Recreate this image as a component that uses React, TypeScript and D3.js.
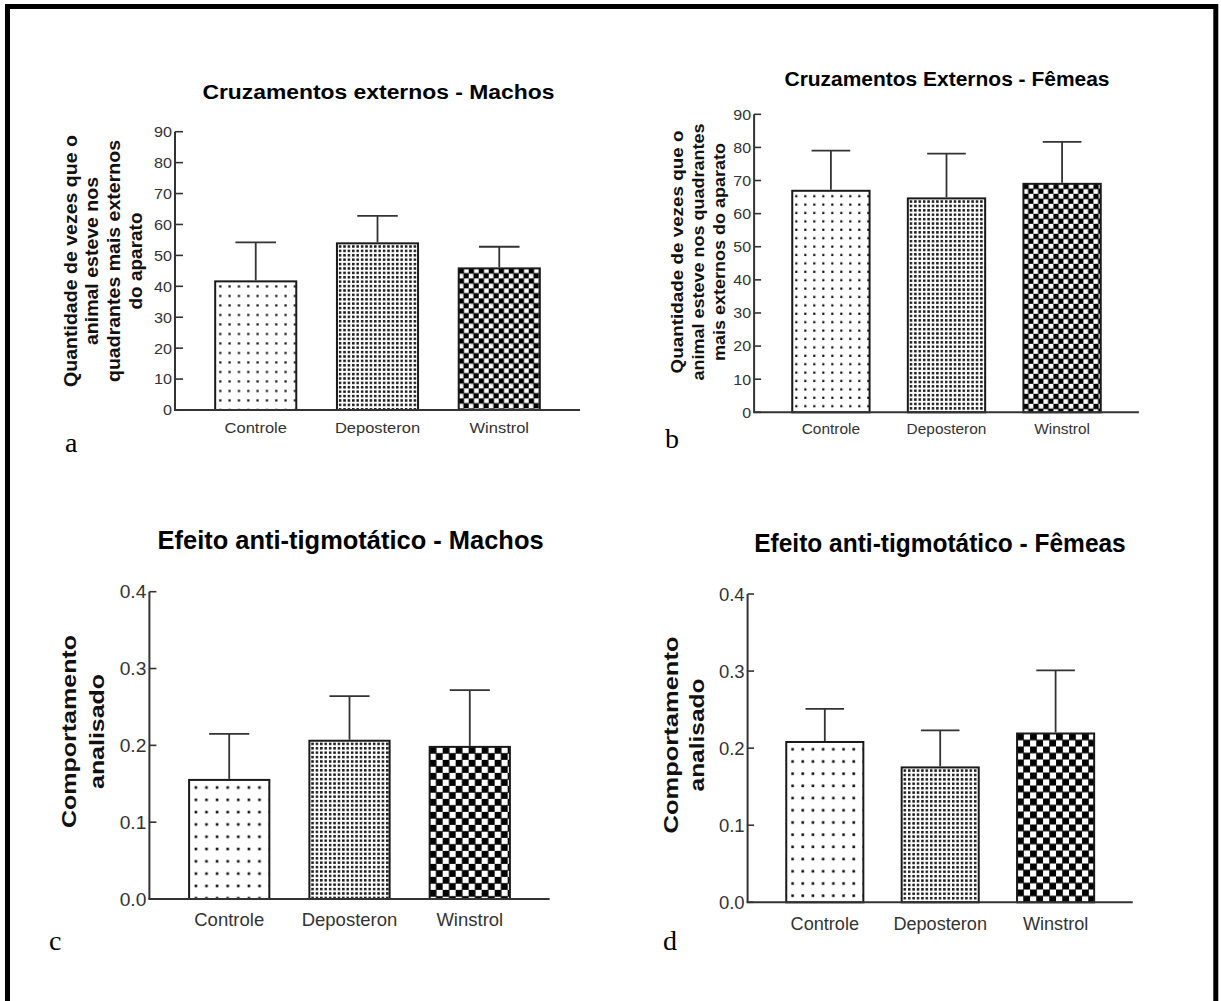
import React, { useEffect } from 'react';
import * as d3 from 'd3';

// ---------- data ----------
const categories = ['Controle', 'Deposteron', 'Winstrol'];

const machosCruzMean = [41.6, 53.9, 45.8];
const machosCruzErr = [12.6, 8.9, 7.0];

const femeasCruzMean = [66.9, 64.6, 69.0];
const femeasCruzErr = [12.1, 13.5, 12.7];

const machosTigMean = [0.155, 0.206, 0.198];
const machosTigErr = [0.06, 0.058, 0.074];

const femeasTigMean = [0.208, 0.175, 0.219];
const femeasTigErr = [0.043, 0.048, 0.082];

const cruzTicks = [0, 10, 20, 30, 40, 50, 60, 70, 80, 90];
const tigTicks = [0, 0.1, 0.2, 0.3, 0.4];

const titleA = 'Cruzamentos externos - Machos';
const titleB = 'Cruzamentos Externos - Fêmeas';
const titleC = 'Efeito anti-tigmotático - Machos';
const titleD = 'Efeito anti-tigmotático - Fêmeas';

const yLabelA = ['Quantidade de vezes que o', 'animal esteve nos', 'quadrantes mais externos', 'do aparato'];
const yLabelB = ['Quantidade de vezes que o', 'animal esteve nos quadrantes', 'mais externos do aparato'];
const yLabelCD = ['Comportamento', 'analisado'];

const SANS = '"Liberation Sans", Arial, Helvetica, sans-serif';
const SERIF = '"Liberation Serif", "Times New Roman", serif';

type Cfg = {
  id: string;
  means: number[];
  errs: number[];
  ticks: number[];
  fmt: (v: number) => string;
  x0: number; x1: number; yBottom: number; yTop: number;
  pi: number; po: number;
  title: string; titleX: number; titleY: number; titleSize: number; titleLen: number;
  yl: string[]; ylX: number[]; ylLen: number[]; ylCy: number; ylSize: number;
  tickSize: number; tickSx: number; tickLen: number;
  catSize: number; catSx: number; catY: number;
  dot: { sx: number; sy: number; ox: number; oy: number; d: number };
  dense: number;
  check: number;
  letter: string; letterX: number; letterY: number;
};

function SText(props: any) {
  const { x, y, sx = 1, anchor = 'start', size, weight = 'normal', fill = '#000', children } = props;
  return (
    <text
      transform={`translate(${x},${y}) scale(${sx},1)`}
      textAnchor={anchor}
      fontSize={size}
      fontWeight={weight}
      fontFamily={SANS}
      fill={fill}
    >
      {children}
    </text>
  );
}

function Panel({ c }: { c: Cfg }) {
  const x = d3.scaleBand<string>().domain(categories).range([c.x0, c.x1]).paddingInner(c.pi).paddingOuter(c.po);
  const y = d3.scaleLinear().domain([c.ticks[0], c.ticks[c.ticks.length - 1]]).range([c.yBottom, c.yTop]);
  const bw = x.bandwidth();

  return (
    <g>
      <defs>
        {categories.map((cat, i) => {
          const bx = x(cat)!;
          const by = y(c.means[i]);
          const pid = `${c.id}-p${i}`;
          if (i === 0) {
            return (
              <pattern key={pid} id={pid} patternUnits="userSpaceOnUse" x={bx} y={by} width={c.dot.sx} height={c.dot.sy}>
                <rect x={c.dot.ox} y={c.dot.oy} width={c.dot.d} height={c.dot.d} fill="#111" />
              </pattern>
            );
          }
          if (i === 1) {
            return (
              <pattern key={pid} id={pid} patternUnits="userSpaceOnUse" x={bx + 1} y={by + 1} width={c.dense} height={c.dense}>
                <rect x={0.9} y={0.9} width={2.5} height={2.5} fill="#1a1a1a" />
              </pattern>
            );
          }
          const s = c.check;
          return (
            <pattern key={pid} id={pid} patternUnits="userSpaceOnUse" x={bx} y={by} width={2 * s} height={2 * s}>
              <rect x={0} y={0} width={2 * s} height={2 * s} fill="#fff" />
              <rect x={-0.3} y={-0.3} width={s + 0.6} height={s + 0.6} fill="#000" />
              <rect x={s - 0.3} y={s - 0.3} width={s + 0.6} height={s + 0.6} fill="#000" />
            </pattern>
          );
        })}
      </defs>

      {/* bars */}
      {categories.map((cat, i) => {
        const bx = x(cat)!;
        const top = y(c.means[i]);
        return (
          <rect
            key={cat}
            x={bx}
            y={top}
            width={bw}
            height={y(0) - top}
            fill={`url(#${c.id}-p${i})`}
            stroke="#1a1a1a"
            strokeWidth={2}
          />
        );
      })}

      {/* error bars */}
      {categories.map((cat, i) => {
        const cx = x(cat)! + bw / 2;
        const top = y(c.means[i]);
        const et = y(c.means[i] + c.errs[i]);
        return (
          <g key={cat + 'e'} stroke="#333" strokeWidth={1.8}>
            <line x1={cx} x2={cx} y1={top - 1} y2={et} />
            <line x1={cx - bw / 4} x2={cx + bw / 4} y1={et} y2={et} />
          </g>
        );
      })}

      {/* axes */}
      <line x1={c.x0} x2={c.x0} y1={c.yTop} y2={c.yBottom} stroke="#333" strokeWidth={2} />
      <line x1={c.x0 - 1} x2={c.x1} y1={c.yBottom} y2={c.yBottom} stroke="#333" strokeWidth={2} />
      {c.ticks.map((t) => (
        <g key={t}>
          <line x1={c.x0} x2={c.x0 + c.tickLen} y1={y(t)} y2={y(t)} stroke="#333" strokeWidth={1.6} />
          <SText x={c.x0 - 3} y={y(t) + c.tickSize * 0.36} sx={c.tickSx} anchor="end" size={c.tickSize} fill="#333">
            {c.fmt(t)}
          </SText>
        </g>
      ))}

      {/* category labels */}
      {categories.map((cat) => (
        <SText key={cat + 'l'} x={x(cat)! + bw / 2} y={c.catY} sx={c.catSx} anchor="middle" size={c.catSize} fill="#333">
          {cat}
        </SText>
      ))}

      {/* title */}
      <text
        x={c.titleX}
        y={c.titleY}
        textAnchor="middle"
        fontFamily={SANS}
        fontWeight="bold"
        fontSize={c.titleSize}
        textLength={c.titleLen}
        lengthAdjust="spacingAndGlyphs"
        fill="#000"
      >
        {c.title}
      </text>

      {/* y label */}
      {c.yl.map((line, i) => (
        <text
          key={line}
          transform={`translate(${c.ylX[i]},${c.ylCy}) rotate(-90)`}
          textAnchor="middle"
          fontFamily={SANS}
          fontWeight="bold"
          fontSize={c.ylSize}
          textLength={c.ylLen[i]}
          lengthAdjust="spacingAndGlyphs"
          fill="#111"
        >
          {line}
        </text>
      ))}

      {/* panel letter */}
      <text x={c.letterX} y={c.letterY} fontFamily={SERIF} fontSize={28} fill="#000">
        {c.letter}
      </text>
    </g>
  );
}

const f0 = d3.format('d');
const f1 = d3.format('.1f');

const panels: Cfg[] = [
  {
    id: 'a', means: machosCruzMean, errs: machosCruzErr, ticks: cruzTicks, fmt: f0,
    x0: 175, x1: 580, yBottom: 410, yTop: 131.7, pi: 0.334, po: 0.33,
    title: titleA, titleX: 378.4, titleY: 99.3, titleSize: 20, titleLen: 352,
    yl: yLabelA, ylX: [76.5, 98.2, 119.9, 141.6], ylLen: [252, 168, 242, 97], ylCy: 261, ylSize: 18,
    tickSize: 15, tickSx: 1.08, tickLen: 8,
    catSize: 15, catSx: 1.1, catY: 432.7,
    dot: { sx: 9.33, sy: 9.5, ox: 4, oy: 4, d: 2.2 }, dense: 4.4, check: 5,
    letter: 'a', letterX: 65, letterY: 451.7,
  },
  {
    id: 'b', means: femeasCruzMean, errs: femeasCruzErr, ticks: cruzTicks, fmt: f0,
    x0: 754.1, x1: 1138.9, yBottom: 412.3, yTop: 114.3, pi: 0.331, po: 0.33,
    title: titleB, titleX: 947, titleY: 85.7, titleSize: 20, titleLen: 325,
    yl: yLabelB, ylX: [683, 703.5, 724.5], ylLen: [243, 257, 218], ylCy: 252, ylSize: 17,
    tickSize: 15, tickSx: 1.07, tickLen: 7,
    catSize: 15, catSx: 1.03, catY: 434,
    dot: { sx: 9.0, sy: 8.4, ox: 3, oy: 4.3, d: 2.2 }, dense: 4.4, check: 5,
    letter: 'b', letterX: 665, letterY: 448.3,
  },
  {
    id: 'c', means: machosTigMean, errs: machosTigErr, ticks: tigTicks, fmt: f1,
    x0: 149.4, x1: 549.6, yBottom: 899, yTop: 591.7, pi: 0.333, po: 0.33,
    title: titleC, titleX: 350.6, titleY: 548.5, titleSize: 25, titleLen: 386,
    yl: yLabelCD, ylX: [76, 103.5], ylLen: [193, 115], ylCy: 731.5, ylSize: 21,
    tickSize: 18.5, tickSx: 1.04, tickLen: 7,
    catSize: 18.5, catSx: 1.0, catY: 926,
    dot: { sx: 10.6, sy: 12.3, ox: 5.5, oy: 6.3, d: 2.6 }, dense: 4.4, check: 6.5,
    letter: 'c', letterX: 49, letterY: 950,
  },
  {
    id: 'd', means: femeasTigMean, errs: femeasTigErr, ticks: tigTicks, fmt: f1,
    x0: 747.6, x1: 1132.8, yBottom: 902.3, yTop: 594, pi: 0.332, po: 0.335,
    title: titleD, titleX: 940, titleY: 552, titleSize: 25, titleLen: 371.5,
    yl: yLabelCD, ylX: [677.5, 704], ylLen: [197, 113], ylCy: 735, ylSize: 21,
    tickSize: 18.5, tickSx: 1.0, tickLen: 6.5,
    catSize: 18.5, catSx: 0.98, catY: 930,
    dot: { sx: 10.2, sy: 12.2, ox: 5, oy: 6, d: 2.6 }, dense: 4.4, check: 6.5,
    letter: 'd', letterX: 663, letterY: 950,
  },
];

export default function App() {
  useEffect(() => {
    document.body.style.margin = '0';
  }, []);
  return (
    <svg
      width={1221}
      height={1001}
      viewBox="0 0 1221 1001"
      style={{ position: 'absolute', left: 0, top: 0, background: '#fff', display: 'block' }}
    >
      <rect x={0} y={0} width={1221} height={1001} fill="#fff" />
      <path d="M7.5,1001 V6.5 H1215.8 V1001" fill="none" stroke="#000" strokeWidth={5} />
      {panels.map((p) => (
        <Panel key={p.id} c={p} />
      ))}
    </svg>
  );
}
